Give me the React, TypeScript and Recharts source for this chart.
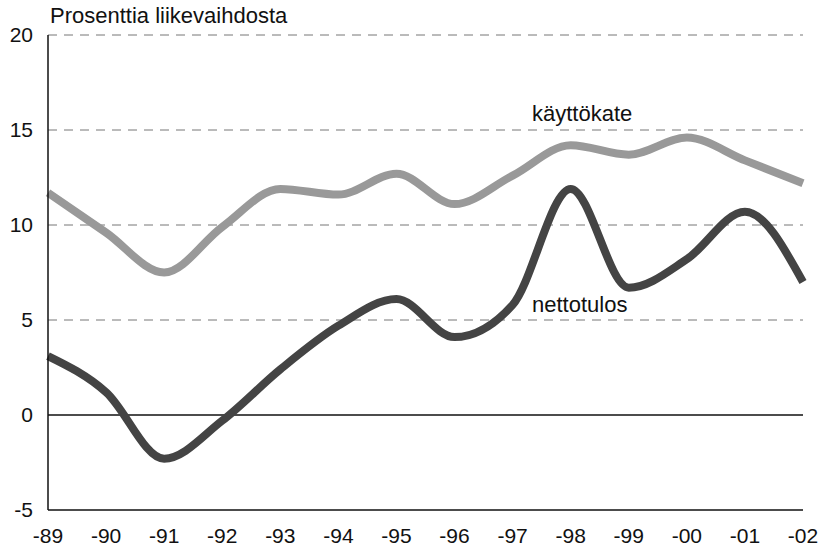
import React from "react";
import {
  LineChart, Line, XAxis, YAxis, CartesianGrid, ReferenceLine,
} from "recharts";

const YEARS = ["-89", "-90", "-91", "-92", "-93", "-94", "-95", "-96", "-97", "-98", "-99", "-00", "-01", "-02"];
const KAYTTOKATE = [11.7, 9.6, 7.5, 9.9, 11.9, 11.6, 12.7, 11.1, 12.6, 14.2, 13.7, 14.6, 13.4, 12.2];
const NETTOTULOS = [3.1, 1.2, -2.3, -0.3, 2.4, 4.7, 6.1, 4.1, 5.8, 11.9, 6.7, 8.2, 10.7, 7.0];
const Y_TICKS = [-5, 0, 5, 10, 15, 20];
const GRID_VALUES = [5, 10, 15, 20];

const data = YEARS.map((year, i) => ({
  year,
  kayttokate: KAYTTOKATE[i],
  nettotulos: NETTOTULOS[i],
}));

const FONT = "'Liberation Sans', Arial, sans-serif";

export default function App() {
  return (
    <div style={{ position: "absolute", left: 0, top: 0, width: 822, height: 549, background: "#fff", fontFamily: FONT }}>
      <LineChart width={822} height={549} data={data} margin={{ top: 35, right: 19, bottom: 0, left: 8 }}>
        <CartesianGrid vertical={false} horizontalValues={GRID_VALUES} stroke="#777" strokeDasharray="9 7" />
        <XAxis
          dataKey="year"
          height={39}
          tickLine={false}
          axisLine={{ stroke: "#111", strokeWidth: 1.5 }}
          tick={{ fill: "#111", fontSize: 21, fontFamily: FONT }}
          tickMargin={12}
          interval={0}
        />
        <YAxis
          width={40}
          domain={[-5, 20]}
          ticks={Y_TICKS}
          tickLine={false}
          axisLine={{ stroke: "#111", strokeWidth: 1.5 }}
          tick={{ fill: "#111", fontSize: 21, fontFamily: FONT }}
          tickMargin={9}
        />
        <ReferenceLine y={0} stroke="#111" strokeWidth={1.5} />
        <Line type="monotone" dataKey="kayttokate" stroke="#999" strokeWidth={8} dot={false} isAnimationActive={false} />
        <Line type="monotone" dataKey="nettotulos" stroke="#444" strokeWidth={8} dot={false} isAnimationActive={false} />
      </LineChart>
      <div style={{ position: "absolute", left: 50, top: 3, fontSize: 22, color: "#111" }}>Prosenttia liikevaihdosta</div>
      <div style={{ position: "absolute", left: 532, top: 101, fontSize: 22, color: "#111" }}>käyttökate</div>
      <div style={{ position: "absolute", left: 532, top: 292, fontSize: 22, color: "#111" }}>nettotulos</div>
    </div>
  );
}
